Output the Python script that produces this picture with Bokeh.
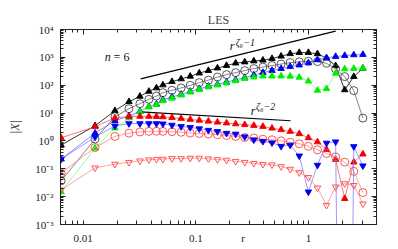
from bokeh.plotting import figure
from bokeh.models import LogAxis, FixedTicker, CustomJSTickFormatter, Label, Range1d
from bokeh.embed import file_html
from bokeh.resources import INLINE

# separations r
r = [0.00638, 0.01276, 0.01914, 0.02552, 0.0319, 0.0383, 0.0447, 0.0510, 0.0614, 0.0740,
     0.0891, 0.1072, 0.1291, 0.1554, 0.1871, 0.2253, 0.2713, 0.3266, 0.3932, 0.4734,
     0.5700, 0.6863, 0.8263, 0.9948, 1.198, 1.442, 1.736, 2.090, 2.516, 3.030]

black_tri = [0.71, 3.5, 12.2, 25.6, 39.8, 60, 79.7, 102, 134, 168,
             209, 272, 335, 412, 507, 620, 680, 740, 790, 900,
             1100, 1350, 1480, 1480, 1340, 940, 500, 68, 204, 405]
black_circ = [0.037, 1.17, 7.4, 14.4, 21.7, 31, 41, 54, 65.5, 80,
              99, 124, 152, 196, 240, 283, 335, 395, 447, 507,
              575, 650, 690, 725, 706, 613, 385, 204, 64, 6.6]
blue_up = [0.222, 1.9, 5.3, 7.9, 11.5, 17, 21, 30, 38, 47,
           60, 75, 92, 107, 130, 155, 187, 231, 284, 335,
           395, 467, 528, 632, 813, 958, 1067, 1159, 1228, 1259]
green_up = [0.0148, 0.55, 2.9, 6.65, 11, 16.5, 20, 27.5, 34, 44,
            56, 70, 86, 101, 119, 143, 173, 195, 212, 212,
            212, 209, 192, 140, 65.5, 75, 268, 385, 395, 405]
red_up = [1.30, 3.24, 6.65, 7.5, 7.6, 7.6, 7.5, 7.3, 6.9, 6.4,
          5.9, 5.5, 5.1, 4.7, 4.4, 4.07, 3.82, 3.57, 3.29, 2.86,
          2.52, 2.19, 1.81, 1.30, 0.92, 0.49, 0.215, 0.0085, 0.173, 0.336]
red_circ = [0.070, 0.58, 1.45, 1.9, 2.1, 2.2, 2.22, 2.2, 2.14, 2.05,
            1.92, 1.85, 1.77, 1.67, 1.57, 1.45, 1.33, 1.27, 1.15, 1.10,
            1.01, 0.895, 0.79, 0.64, 0.48, 0.354, 0.269, 0.173, 0.081, 0.014]
blue_down = [0.222, 1.38, 3.45, 4.2, 4.2, 4.2, 4.2, 4.1, 3.7, 3.3,
             3.05, 2.74, 2.42, 2.19, 1.89, 1.77, 1.41, 1.10, 0.97, 0.86,
             0.64, 0.71, 0.29, 0.0148, 0.135, 0.84, 0.93, 1e-30, 0.63, 0.128]
red_down = [0.0175, 0.108, 0.147, 0.171, 0.193, 0.21, 0.219, 0.222, 0.234, 0.234,
            0.242, 0.242, 0.228, 0.215, 0.205, 0.185, 0.171, 0.157, 0.144, 0.139,
            0.12, 0.097, 0.073, 0.049, 0.0206, 0.0049, 0.0224, 0.0294, 0.0254, 0.0055]

# reference power-law lines (endpoints)
ref1_r = [0.0324, 1.736]
ref1_y = [168, 8690]
ref2_r = [0.0324, 0.692]
ref2_y = [11.0, 5.3]

x_major = [0.01, 0.1, 1]
x_label_pos = 0.262          # where the axis name "r" sits on the tick-label row
y_major = [1e-3, 1e-2, 1e-1, 1, 10, 100, 1000, 10000]
x_minor = [m * 10.0 ** e for e in range(-3, 1) for m in range(2, 10)]
y_minor = [m * 10.0 ** e for e in range(-3, 4) for m in range(2, 10)]

FONT = "Liberation Serif"

p = figure(frame_width=316, frame_height=195, x_axis_type="log", y_axis_type="log",
           x_range=Range1d(0.0063, 4.0), y_range=Range1d(1e-3, 1e4),
           output_backend="svg", toolbar_location=None,
           min_border_left=60, min_border_right=22, min_border_top=29, min_border_bottom=25,
           title="LES")
p.title.align = "center"
p.title.text_font = FONT
p.title.text_font_size = "12px"
p.title.text_font_style = "normal"
p.title.standoff = 5
p.xgrid.visible = False
p.ygrid.visible = False
p.outline_line_color = "#222222"
p.outline_line_width = 1

sup = """
const s = {'-':'\u207b','0':'\u2070','1':'\u00b9','2':'\u00b2','3':'\u00b3','4':'\u2074','5':'\u2075','6':'\u2076','7':'\u2077','8':'\u2078','9':'\u2079'};
const e = Math.round(Math.log10(tick));
return '10' + String(e).split('').map(c => s[c]).join('');
"""

def style_axis(ax):
    ax.axis_line_color = "#222222"
    ax.major_tick_in = 5
    ax.major_tick_out = 0
    ax.minor_tick_in = 3
    ax.minor_tick_out = 0
    ax.major_tick_line_color = "#222222"
    ax.minor_tick_line_color = "#222222"
    ax.major_label_text_font = FONT
    ax.major_label_text_font_size = "11px"
    ax.major_label_text_color = "#222222"

# bottom axis: labels at the decades plus the axis name "r" on the same row;
# its tick marks are all drawn as (minor) ticks so no stray mark appears at "r"
xa = p.xaxis[0]
xa.ticker = FixedTicker(ticks=x_major + [x_label_pos], minor_ticks=x_minor + x_major)
xa.formatter = CustomJSTickFormatter(
    args=dict(lp=x_label_pos),
    code="if (Math.abs(tick - lp) < 1e-9) return 'r'; return tick >= 1 ? tick.toFixed(0) : String(tick);")
style_axis(xa)
xa.major_tick_in = 0
xa.minor_tick_in = 4
xa.major_label_standoff = 7

ya = p.yaxis[0]
ya.ticker = FixedTicker(ticks=y_major, minor_ticks=y_minor)
ya.formatter = CustomJSTickFormatter(code=sup)
style_axis(ya)
ya.major_label_standoff = 7
ya.axis_label = "|X|"
ya.axis_label_text_font = FONT
ya.axis_label_text_font_size = "12px"
ya.axis_label_text_font_style = "italic"
ya.axis_label_standoff = 10

for loc, tk, mn in (("above", x_major, x_minor), ("right", y_major, y_minor)):
    ax = LogAxis(ticker=FixedTicker(ticks=tk, minor_ticks=mn),
                 formatter=CustomJSTickFormatter(code="return '';"))
    style_axis(ax)
    ax.major_label_text_font_size = "0px"
    ax.major_label_standoff = 0
    p.add_layout(ax, loc)

# reference lines
p.line(ref1_r, ref1_y, line_color="black", line_width=1.2)
p.line(ref2_r, ref2_y, line_color="black", line_width=1.2)

def series(y, marker, mcolor, lcolor, filled, size, lw=0.8):
    p.line(r, y, line_color=lcolor, line_width=lw)
    p.scatter(r, y, marker=marker, size=size, line_color=mcolor,
              fill_color=mcolor if filled else None, line_width=0.9)

series(black_tri, "triangle", "#000000", "#000000", True, 6.5)
series(black_circ, "circle", "#444444", "#666666", False, 8)
series(blue_up, "triangle", "#0000ee", "#6f6fff", True, 6.5)
series(green_up, "triangle", "#00ee00", "#77ff77", True, 6.5)
series(red_up, "triangle", "#ee0000", "#ff5555", True, 6.5)
series(red_circ, "circle", "#ff4444", "#ff8888", False, 8)
series(blue_down, "inverted_triangle", "#0000ee", "#7f7fff", True, 6.5)
series(red_down, "inverted_triangle", "#ff4444", "#ff8888", False, 6.5)

def lab(x, y, text, size="12px", style="normal", baseline="alphabetic"):
    p.add_layout(Label(x=x, y=y, text=text, text_font=FONT, text_font_size=size,
                       text_font_style=style, text_baseline=baseline,
                       text_color="#111111"))

lab(0.01552, 1067, "n", style="italic", baseline="middle")
lab(0.01864, 1067, "= 6", baseline="middle")
lab(0.2002, 2655, "r", style="italic")
lab(0.2253, 3550, "\u03b6\u2086\u22121", size="10px", style="italic")
lab(0.306, 12.2, "r", style="italic")
lab(0.342, 16.9, "\u03b6\u2086\u22122", size="10px", style="italic")

open("out.html", "w").write(file_html(p, INLINE))
